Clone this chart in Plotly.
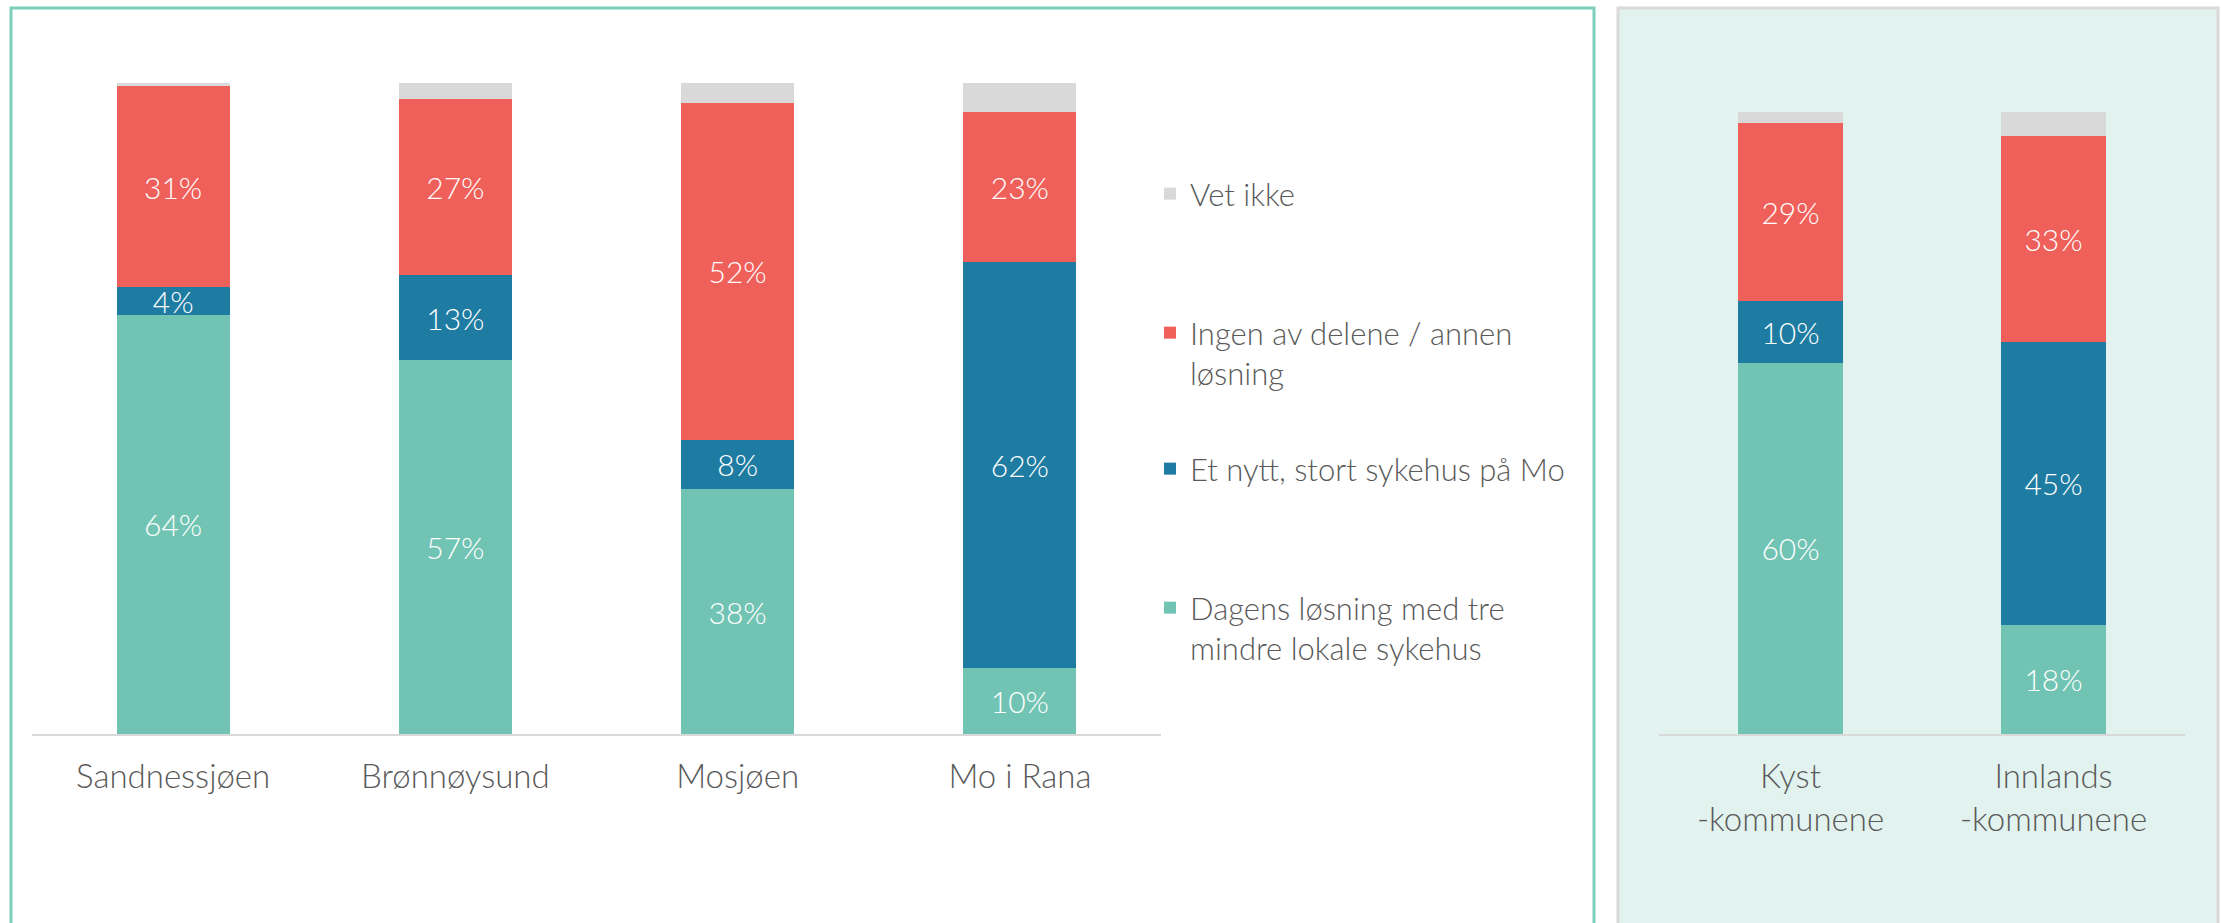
import plotly.graph_objects as go

W, H = 2221, 923

# ---- data ----
regions = ["Sandnessjøen", "Brønnøysund", "Mosjøen", "Mo i Rana"]
groups = ["Kyst<br>-kommunene", "Innlands<br>-kommunene"]

series_names = [
    "Dagens løsning med tre<br>mindre lokale sykehus",
    "Et nytt, stort sykehus på Mo",
    "Ingen av delene / annen<br>løsning",
    "Vet ikke",
]
series_colors = ["#71c4b3", "#1e7ca2", "#f0605b", "#d9d9d9"]

dagens_regions = [64.4, 57.4, 37.6, 10.2]
nytt_regions = [4.2, 13.1, 7.6, 62.3]
ingen_regions = [30.9, 27.1, 51.8, 23.1]
vetikke_regions = [0.5, 2.4, 3.0, 4.4]

dagens_groups = [59.7, 17.6]
nytt_groups = [9.9, 45.4]
ingen_groups = [28.7, 33.1]
vetikke_groups = [1.7, 3.9]

left_values = [dagens_regions, nytt_regions, ingen_regions, vetikke_regions]
right_values = [dagens_groups, nytt_groups, ingen_groups, vetikke_groups]

FONT = "Lato"
TXT = "#595959"
WEIGHT = 300

fig = go.Figure()

legend_ids = ["legend4", "legend3", "legend2", "legend"]
for i, (name, color) in enumerate(zip(series_names, series_colors)):
    label = "" if i == 3 else "%{y:.0f}%"
    tf = dict(color="white", size=30, family=FONT, weight=WEIGHT)
    fig.add_trace(go.Bar(
        x=regions, y=left_values[i], name=name,
        marker=dict(color=color, line=dict(width=0)),
        texttemplate=label, textposition="inside", insidetextanchor="middle",
        textfont=tf,
        xaxis="x", yaxis="y", legend=legend_ids[i], showlegend=True,
        hoverinfo="skip",
    ))
    fig.add_trace(go.Bar(
        x=groups, y=right_values[i], name=name,
        marker=dict(color=color, line=dict(width=0)),
        texttemplate=label, textposition="inside", insidetextanchor="middle",
        textfont=tf,
        xaxis="x2", yaxis="y2", showlegend=False,
        hoverinfo="skip",
    ))

def px_x(v):
    return v / W

def px_y(v):
    return 1 - v / H

shapes = [
    # left panel
    dict(type="rect", xref="paper", yref="paper",
         x0=px_x(11), x1=px_x(1594), y0=px_y(930), y1=px_y(8),
         line=dict(color="#7ccfbb", width=3), fillcolor="white", layer="below"),
    # right panel
    dict(type="rect", xref="paper", yref="paper",
         x0=px_x(1618), x1=px_x(2218), y0=px_y(930), y1=px_y(8),
         line=dict(color="#d9d9d9", width=3), fillcolor="#e2f2ef", layer="below"),
]

leg_common = dict(
    font=dict(family=FONT, size=31, color=TXT, weight=WEIGHT),
    bgcolor="rgba(0,0,0,0)", xanchor="left", yanchor="top",
    valign="top", itemclick=False, itemdoubleclick=False,
)
leg_x = px_x(1150)
legend_tops = {"legend": 167, "legend2": 306, "legend3": 442, "legend4": 581}

layout_legends = {}
for lid, top in legend_tops.items():
    layout_legends[lid] = dict(leg_common, x=leg_x, y=px_y(top))

tickfont = dict(family=FONT, size=33, color=TXT, weight=WEIGHT)

fig.update_layout(
    width=W, height=H, autosize=False,
    margin=dict(l=0, r=0, t=0, b=0),
    paper_bgcolor="white", plot_bgcolor="rgba(0,0,0,0)",
    barmode="stack", bargap=0.6,
    shapes=shapes,
    uniformtext=dict(minsize=30, mode="show"),
    xaxis=dict(domain=[px_x(32), px_x(1161)], showgrid=False, zeroline=False,
               showline=True, linecolor="#d9d9d9", linewidth=2, ticks="",
               tickfont=tickfont, ticklabelstandoff=12, fixedrange=True),
    yaxis=dict(domain=[px_y(734), px_y(83)], range=[0, 100], visible=False,
               fixedrange=True),
    xaxis2=dict(domain=[px_x(1659), px_x(2185)], anchor="y2", showgrid=False,
                zeroline=False, showline=True, linecolor="#d9d9d9", linewidth=2,
                ticks="", tickfont=tickfont, ticklabelstandoff=12,
                fixedrange=True),
    yaxis2=dict(domain=[px_y(734), px_y(112)], range=[0, 100], visible=False,
                anchor="x2", fixedrange=True),
    **layout_legends,
)

fig.write_html("out.html", config={"displayModeBar": False},
               post_script="document.body.style.margin='0';")
